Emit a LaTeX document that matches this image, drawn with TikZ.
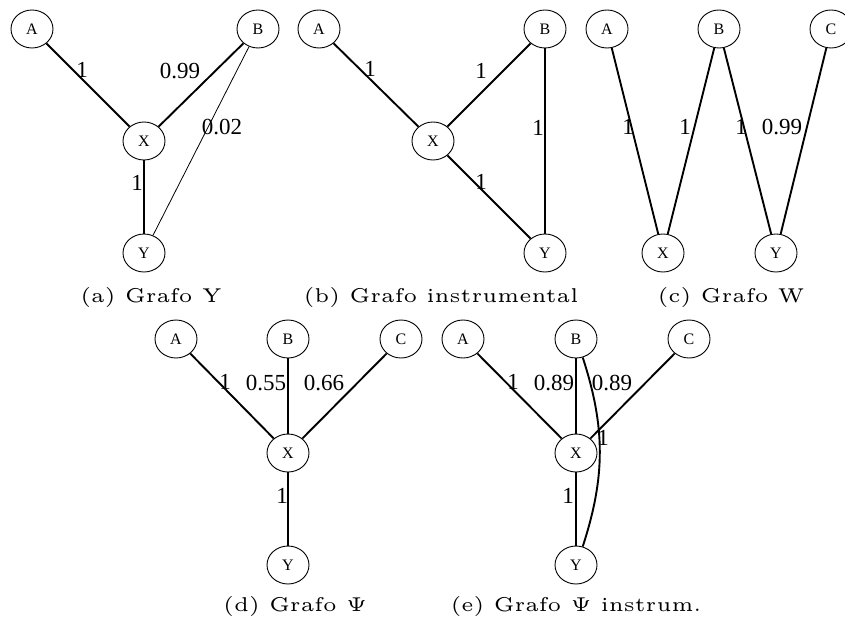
\documentclass[tikz,border=0pt]{standalone}
\usepackage{fontspec}
\usepackage{graphicx}
\newfontfamily\gvfont{Liberation Serif}
\usetikzlibrary{shapes.geometric}
\newcommand\mycap[1]{\scalebox{4}{\fontsize{5}{6}\selectfont #1}}
\begin{document}
\begin{tikzpicture}[x=1pt,y=-1pt,
  vtx/.style={ellipse,draw,line width=0.9pt,minimum width=42pt,minimum height=38pt,inner sep=0pt,font=\gvfont\fontsize{16}{16}\selectfont},
  edg/.style={line width=1.9pt},
  thinedg/.style={line width=0.8pt},
  lbl/.style={inner sep=0pt,font=\gvfont\fontsize{23}{23}\selectfont},
  captxt/.style={inner sep=0pt}]
\useasboundingbox (0,0) rectangle (845,631);
\clip (0,0) rectangle (845,631);
% (a)
\node[vtx] (aA) at (32,29) {A};
\node[vtx] (aB) at (258,29) {B};
\node[vtx] (aX) at (144,141) {X};
\node[vtx] (aY) at (144,253) {Y};
\draw[edg] (aA) -- (aX);
\draw[edg] (aB) -- (aX);
\draw[thinedg] (aB) -- (aY);
\draw[edg] (aX) -- (aY);
\node[lbl] (la1) at (82,70) {1};
\node[lbl] (la2) at (180,71) {0.99};
\node[lbl] (la3) at (222,127) {0.02};
\node[lbl] (la4) at (137,183) {1};
\node[captxt] (ca) at (151,297) {\mycap{(a) Grafo Y}};
% (b)
\node[vtx] (bA) at (319,29) {A};
\node[vtx] (bB) at (545,29) {B};
\node[vtx] (bX) at (433,141) {X};
\node[vtx] (bY) at (545,253) {Y};
\draw[edg] (bA) -- (bX);
\draw[edg] (bB) -- (bX);
\draw[edg] (bB) -- (bY);
\draw[edg] (bX) -- (bY);
\node[lbl] (lb1) at (370,69) {1};
\node[lbl] (lb2) at (481,71) {1};
\node[lbl] (lb3) at (538,128) {1};
\node[lbl] (lb4) at (481,182) {1};
\node[captxt] (cb) at (441,297) {\mycap{(b) Grafo instrumental}};
% (c)
\node[vtx] (cA) at (607,29) {A};
\node[vtx] (cB) at (719,29) {B};
\node[vtx] (cC) at (831,29) {C};
\node[vtx] (cX) at (663,253) {X};
\node[vtx] (cY) at (776,253) {Y};
\draw[edg] (cA) -- (cX);
\draw[edg] (cB) -- (cX);
\draw[edg] (cB) -- (cY);
\draw[edg] (cC) -- (cY);
\node[lbl] (lc1) at (628,127) {1};
\node[lbl] (lc2) at (685,127) {1};
\node[lbl] (lc3) at (741,127) {1};
\node[lbl] (lc4) at (782,127) {0.99};
\node[captxt] (cc) at (731,297) {\mycap{(c) Grafo W}};
% (d)
\node[vtx] (dA) at (176,339) {A};
\node[vtx] (dB) at (288,339) {B};
\node[vtx] (dC) at (401,339) {C};
\node[vtx] (dX) at (288,453) {X};
\node[vtx] (dY) at (288,565) {Y};
\draw[edg] (dA) -- (dX);
\draw[edg] (dB) -- (dX);
\draw[edg] (dC) -- (dX);
\draw[edg] (dX) -- (dY);
\node[lbl] (ld1) at (225,382) {1};
\node[lbl] (ld2) at (266,383) {0.55};
\node[lbl] (ld3) at (324,383) {0.66};
\node[lbl] (ld4) at (282,496) {1};
\node[captxt] (cd) at (295,606) {\mycap{(d) Grafo $\Psi$}};
% (e)
\node[vtx] (eA) at (463,339) {A};
\node[vtx] (eB) at (576,339) {B};
\node[vtx] (eC) at (689,339) {C};
\node[vtx] (eX) at (576,453) {X};
\node[vtx] (eY) at (576,565) {Y};
\draw[edg] (eA) -- (eX);
\draw[edg] (eB) -- (eX);
\draw[edg] (eC) -- (eX);
\draw[edg] (eX) -- (eY);
\draw[edg] (eB.-70) to[bend left=18] (eY.70);
\node[lbl] (le1) at (513,382) {1};
\node[lbl] (le2) at (554,383) {0.89};
\node[lbl] (le3) at (612,383) {0.89};
\node[lbl] (le4) at (603,438) {1};
\node[lbl] (le5) at (568,496) {1};
\node[captxt] (ce) at (576,606) {\mycap{(e) Grafo $\Psi$ instrum.}};
\end{tikzpicture}
\end{document}
